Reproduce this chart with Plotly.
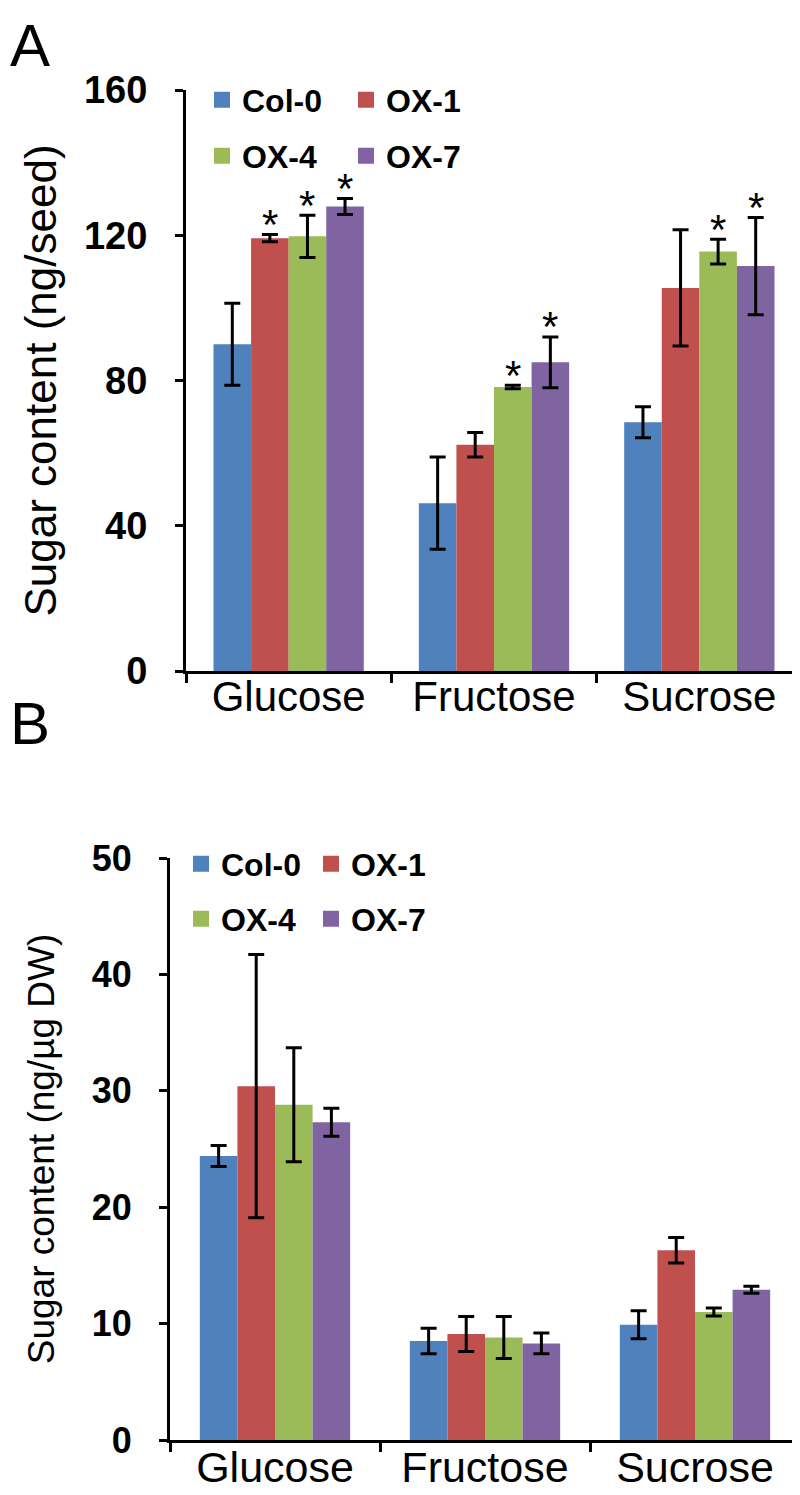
import plotly.graph_objects as go

# ---------------- data ----------------
categories = ["Glucose", "Fructose", "Sucrose"]
series = ["Col-0", "OX-1", "OX-4", "OX-7"]
colors = ["#4F81BD", "#C0504D", "#9BBB59", "#8064A2"]

# Panel A: ng/seed
a_col0 = [90.0, 46.2, 68.5]
a_ox1 = [119.2, 62.3, 105.5]
a_ox4 = [119.7, 78.2, 115.5]
a_ox7 = [127.9, 85.0, 111.5]
a_col0_err = [11.3, 12.7, 4.3]
a_ox1_err = [1.0, 3.4, 16.0]
a_ox4_err = [5.8, 0.5, 3.4]
a_ox7_err = [2.2, 7.0, 13.4]
a_col0_sig = ["", "", ""]
a_ox1_sig = ["*", "", ""]
a_ox4_sig = ["*", "*", "*"]
a_ox7_sig = ["*", "*", "*"]

# Panel B: ng/µg DW
b_col0 = [24.4, 8.5, 9.9]
b_ox1 = [30.4, 9.1, 16.3]
b_ox4 = [28.8, 8.8, 11.0]
b_ox7 = [27.3, 8.3, 12.9]
b_col0_err = [0.9, 1.1, 1.2]
b_ox1_err = [11.3, 1.5, 1.1]
b_ox4_err = [4.9, 1.8, 0.35]
b_ox7_err = [1.2, 0.9, 0.3]

a_tick_vals = [0, 40, 80, 120, 160]
b_tick_vals = [0, 10, 20, 30, 40, 50]

# ---------------- figure ----------------
FONT = "Arial, 'Liberation Sans', sans-serif"
fig = go.Figure()

a_vals = [a_col0, a_ox1, a_ox4, a_ox7]
a_errs = [a_col0_err, a_ox1_err, a_ox4_err, a_ox7_err]
a_sigs = [a_col0_sig, a_ox1_sig, a_ox4_sig, a_ox7_sig]
b_vals = [b_col0, b_ox1, b_ox4, b_ox7]
b_errs = [b_col0_err, b_ox1_err, b_ox4_err, b_ox7_err]

wA = 0.183
wB = 0.179
cat_idx = list(range(len(categories)))
annotations = []

for i, name in enumerate(series):
    xs = [c + (i - 1.5) * wA for c in cat_idx]
    fig.add_trace(go.Bar(
        x=xs, y=a_vals[i], width=wA, name=name, showlegend=False,
        marker=dict(color=colors[i], line=dict(width=0)),
        error_y=dict(type="data", array=a_errs[i], color="black", thickness=3, width=8),
        xaxis="x", yaxis="y",
    ))
    # legend entry (square swatch)
    fig.add_trace(go.Scatter(
        x=[None], y=[None], mode="markers", name=name,
        marker=dict(symbol="square", size=19, color=colors[i]),
        xaxis="x", yaxis="y", legend="legend" if i < 2 else "legend2",
    ))
    for x, v, e, s in zip(xs, a_vals[i], a_errs[i], a_sigs[i]):
        if s:
            annotations.append(dict(
                text=s, x=x, y=v + e, xref="x", yref="y", showarrow=False,
                xanchor="center", yanchor="middle", yshift=10,
                font=dict(size=42, family=FONT, color="black"),
            ))

for i, name in enumerate(series):
    xs = [c + (i - 1.5) * wB for c in cat_idx]
    fig.add_trace(go.Bar(
        x=xs, y=b_vals[i], width=wB, name=name, showlegend=False,
        marker=dict(color=colors[i], line=dict(width=0)),
        error_y=dict(type="data", array=b_errs[i], color="black", thickness=3, width=8),
        xaxis="x2", yaxis="y2",
    ))
    fig.add_trace(go.Scatter(
        x=[None], y=[None], mode="markers", name=name,
        marker=dict(symbol="square", size=19, color=colors[i]),
        xaxis="x2", yaxis="y2", legend="legend3" if i < 2 else "legend4",
    ))

axis_common = dict(
    showline=True, linecolor="black", linewidth=3, showgrid=False, zeroline=False,
    mirror=False, automargin=False,
)

H = 1495.0
W = 800.0

annotations += [
    dict(text="A", x=0, y=1 - 2 / H, xref="paper", yref="paper", xanchor="left",
         yanchor="top", showarrow=False, font=dict(size=60, family=FONT)),
    dict(text="B", x=0, y=1 - 680 / H, xref="paper", yref="paper", xanchor="left",
         yanchor="top", showarrow=False, font=dict(size=60, family=FONT)),
]

legend_common = dict(orientation="h", xanchor="left", yanchor="middle",
                     entrywidthmode="pixels", bgcolor="rgba(0,0,0,0)",
                     itemsizing="trace", tracegroupgap=0)

fig.update_layout(
    width=800, height=1495,
    margin=dict(l=0, r=0, t=0, b=0, autoexpand=False),
    paper_bgcolor="white", plot_bgcolor="white",
    barmode="overlay",
    font=dict(family=FONT, color="black"),
    xaxis=dict(
        **axis_common, domain=[178 / W, 794 / W], range=[-0.5, 2.5],
        anchor="y", tickmode="array", tickvals=cat_idx, ticktext=categories,
        ticks="", tickfont=dict(size=42, family=FONT), ticklabelstandoff=-13,
        minor=dict(tickmode="array", tickvals=[-0.5, 0.5, 1.5, 2.5], ticks="outside",
                   ticklen=9, tickwidth=3, tickcolor="black"),
    ),
    yaxis=dict(
        **axis_common, domain=[1 - 663 / H, 1 - 82 / H], range=[0, 160],
        anchor="x", tickmode="array", tickvals=a_tick_vals,
        ticks="outside", ticklen=8, tickwidth=3, tickcolor="black",
        tickfont=dict(size=38, family=FONT, weight="bold"), ticklabelstandoff=20,
        title=dict(text="Sugar content (ng/seed)", font=dict(size=44, family=FONT), standoff=14),
    ),
    xaxis2=dict(
        **axis_common, domain=[162 / W, 792 / W], range=[-0.5, 2.5],
        anchor="y2", tickmode="array", tickvals=cat_idx, ticktext=categories,
        ticks="", tickfont=dict(size=43, family=FONT), ticklabelstandoff=-13,
        minor=dict(tickmode="array", tickvals=[-0.5, 0.5, 1.5, 2.5], ticks="outside",
                   ticklen=9, tickwidth=3, tickcolor="black"),
    ),
    yaxis2=dict(
        **axis_common, domain=[1 - 1432 / H, 1 - 850 / H], range=[0, 50],
        anchor="x2", tickmode="array", tickvals=b_tick_vals,
        ticks="outside", ticklen=8, tickwidth=3, tickcolor="black",
        tickfont=dict(size=36, family=FONT, weight="bold"), ticklabelstandoff=20,
        title=dict(text="Sugar content (ng/µg DW)", font=dict(size=37, family=FONT), standoff=26),
    ),
    legend=dict(**legend_common, x=194 / W, y=1 - 92 / H, entrywidth=99,
                font=dict(size=32, family=FONT, weight="bold")),
    legend2=dict(**legend_common, x=194 / W, y=1 - 148 / H, entrywidth=99,
                 font=dict(size=32, family=FONT, weight="bold")),
    legend3=dict(**legend_common, x=173 / W, y=1 - 856 / H, entrywidth=85,
                 font=dict(size=32, family=FONT, weight="bold")),
    legend4=dict(**legend_common, x=173 / W, y=1 - 911 / H, entrywidth=85,
                 font=dict(size=32, family=FONT, weight="bold")),
    annotations=annotations,
    showlegend=True,
)

fig.write_html("out.html")
